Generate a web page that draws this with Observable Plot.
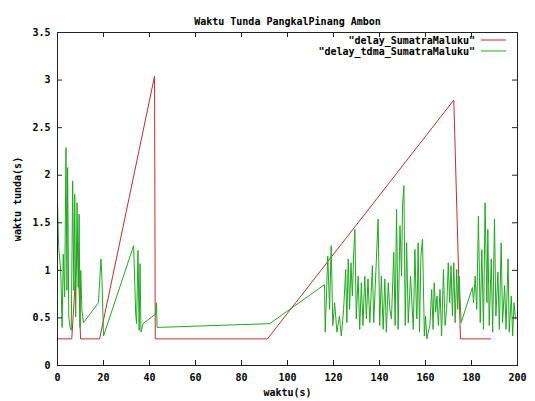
<!DOCTYPE html>
<html>
<head>
<meta charset="utf-8">
<script src="https://cdn.jsdelivr.net/npm/d3@7"></script>
<script src="https://cdn.jsdelivr.net/npm/@observablehq/plot@0.6"></script>
<style>
  body { margin: 0; background: white; }
  #chart { position: relative; width: 535px; height: 401px; }
</style>
</head>
<body>
<div id="chart"></div>
<script>
// ---- data ----
const titleText = "Waktu Tunda PangkalPinang Ambon";
const xLabel = "waktu(s)";
const yLabel = "waktu tunda(s)";
const seriesNames = ['"delay_SumatraMaluku"', '"delay_tdma_SumatraMaluku"'];
const seriesColors = ["#cc2b2b", "#1faa1f"];
const xTicks = [0, 20, 40, 60, 80, 100, 120, 140, 160, 180, 200];
const yTicks = [0, 0.5, 1, 1.5, 2, 2.5, 3, 3.5];

// delay_SumatraMaluku
const redX = [0, 6.2, 8.8, 10.0, 18.3, 42.2, 42.5, 91.3, 172.3, 175.2, 188.3];
const redY = [0.28, 0.28, 1.30, 0.28, 0.28, 3.04, 0.28, 0.28, 2.79, 0.28, 0.28];

// delay_tdma_SumatraMaluku
const greenX = [
  0, 0.5, 1.4, 2.0, 2.5, 3.1, 3.7, 4.1, 4.4, 4.9, 5.5, 6.0, 6.6, 7.1, 7.5, 7.9, 8.5, 9.0, 9.4, 9.8, 10.1, 10.6, 11.3,
  17.8, 18.9, 19.3, 20.0, 33.1, 34.0, 34.4, 35.0, 35.5, 35.9, 36.3, 37.2, 42.6, 43.0, 43.3, 92.3,
  116.1, 116.4, 117.5, 118.3, 119.0, 119.7, 120.5, 121.5, 122.6, 123.4, 124.4, 125.3, 125.8, 126.4, 127.0, 127.6,
  128.2, 128.8, 129.3, 129.9, 130.7, 131.4, 132.1, 132.8, 133.6, 134.3, 135.0, 135.8, 136.9, 137.5, 138.7, 139.4,
  140.1, 140.8, 141.6, 142.3, 143.0, 143.8, 144.5, 145.2, 146.2, 146.8, 147.4, 148.1, 148.9, 149.6, 150.0, 150.6,
  151.2, 151.8, 152.5, 153.5, 154.7, 155.4, 156.1,
  156.3, 156.8, 157.4, 158.0, 158.7, 159.5, 160.0, 160.6, 161.2, 161.9, 162.7, 163.3, 163.8, 164.4, 165.0, 165.6,
  166.3, 167.0, 167.8, 168.5, 169.2, 169.9, 170.5, 171.1, 171.7, 172.3, 172.9, 173.6, 174.0, 174.6, 175.5,
  180.4, 180.9, 181.6, 182.3, 183.0, 183.8, 184.5, 185.2, 185.9, 186.7, 187.1, 187.7, 188.6, 189.2, 190.0, 190.6,
  191.5, 192.1, 192.9, 193.5, 194.4, 195.0, 195.9, 196.4, 197.3, 197.9, 198.5, 199.1
];
const greenY = [
  1.73, 1.24, 1.00, 0.40, 1.17, 0.72, 2.29, 0.79, 2.08, 0.51, 0.40, 0.37, 1.94, 0.79, 1.80, 0.51, 1.71, 0.82, 1.59, 0.40, 1.00, 0.58, 0.45,
  0.66, 1.12, 0.93, 0.31, 1.26, 0.54, 0.44, 1.21, 0.37, 1.07, 0.35, 0.44, 0.54, 0.66, 0.40, 0.44,
  0.85, 0.35, 1.15, 0.59, 1.26, 0.42, 0.66, 0.35, 0.52, 0.31, 0.59, 1.01, 0.45, 1.12, 0.59, 1.08,
  0.73, 1.19, 1.43, 0.49, 0.94, 0.38, 0.87, 0.42, 0.94, 0.49, 0.91, 0.45, 1.05, 0.45, 1.15, 1.54,
  0.42, 0.94, 0.38, 0.91, 0.35, 0.87, 0.59, 0.49, 1.19, 0.42, 1.64, 0.38, 1.47, 0.94, 1.68, 1.89,
  0.42, 1.29, 0.45, 0.94, 0.38, 1.22, 0.52,
  0.49, 1.29, 0.35, 1.15, 1.33, 0.31, 0.52, 0.28, 0.35, 0.42, 0.80, 0.38, 0.87, 0.56, 0.73, 0.42,
  0.80, 0.31, 1.01, 0.42, 0.59, 1.08, 0.66, 1.05, 0.52, 1.08, 0.45, 1.01, 0.59, 0.94, 0.45,
  0.82, 0.66, 0.94, 0.59, 1.57, 0.45, 1.22, 0.38, 1.71, 0.66, 1.43, 0.42, 1.12, 0.35, 1.54, 0.52,
  0.98, 0.38, 1.29, 0.45, 0.84, 0.38, 1.12, 0.35, 0.73, 0.31, 0.66, 0.49
];

// ---- layout ----
const W = 535, H = 401;
const mTop = 32, mBottom = 36, mLeft = 57, mRight = 18;
const frameW = W - mLeft - mRight, frameH = H - mTop - mBottom;
const tickLen = 5;
const font = "'DejaVu Sans Mono', monospace";

const red = redX.map((x, i) => ({x, y: redY[i]}));
const green = greenX.map((x, i) => ({x, y: greenY[i]}));

const chart = Plot.plot({
  width: W,
  height: H,
  marginTop: mTop,
  marginBottom: mBottom,
  marginLeft: mLeft,
  marginRight: mRight,
  style: {fontFamily: font, fontSize: "10px", fontWeight: "bold", color: "#000", background: "white"},
  x: {domain: [0, 200]},
  y: {domain: [0, 3.5]},
  marks: [
    Plot.line(red, {x: "x", y: "y", stroke: seriesColors[0], strokeWidth: 1}),
    Plot.line(green, {x: "x", y: "y", stroke: seriesColors[1], strokeWidth: 1}),
    Plot.frame({stroke: "#222", strokeWidth: 1}),
    // inward ticks on all sides
    Plot.tickX(xTicks, {x: d => d, insetTop: frameH - tickLen, stroke: "#222"}),
    Plot.tickX(xTicks, {x: d => d, insetBottom: frameH - tickLen, stroke: "#222"}),
    Plot.tickY(yTicks, {y: d => d, insetRight: frameW - tickLen, stroke: "#222"}),
    Plot.tickY(yTicks, {y: d => d, insetLeft: frameW - tickLen, stroke: "#222"}),
    Plot.axisX(xTicks, {tickSize: 0, tickPadding: 8, tickFormat: d => String(d),
      label: xLabel, labelAnchor: "center", labelArrow: "none", labelOffset: 30}),
    Plot.axisY(yTicks, {tickSize: 0, tickPadding: 7, tickFormat: d => String(d),
      label: yLabel, labelAnchor: "center", labelArrow: "none", labelOffset: 44}),
    Plot.text([titleText], {text: d => d, frameAnchor: "top", dy: -15, fontSize: 10, fontWeight: "bold"})
  ]
});

document.getElementById("chart").appendChild(chart);

// legend (inside, top-right)
const svg = d3.select(chart);
const lg = svg.append("g").attr("font-family", font).attr("font-size", 10).attr("font-weight", "bold");
seriesNames.forEach((name, i) => {
  const yy = mTop + 8 + i * 11;
  lg.append("text").attr("x", W - mRight - 42).attr("y", yy).attr("dy", "0.35em")
    .attr("text-anchor", "end").attr("fill", "#000").text(name);
  lg.append("line").attr("x1", W - mRight - 36).attr("x2", W - mRight - 11)
    .attr("y1", yy).attr("y2", yy).attr("stroke", seriesColors[i]).attr("stroke-width", 1);
});
</script>
</body>
</html>
